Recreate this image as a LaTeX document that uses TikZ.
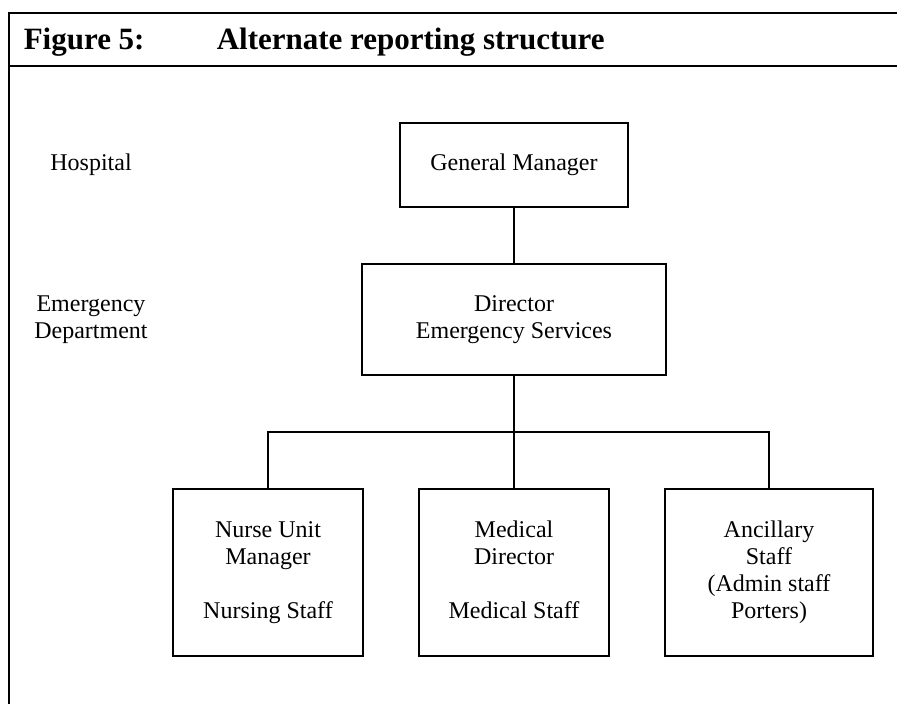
\documentclass[tikz,border=0pt]{standalone}
\usepackage{fontspec}
\setmainfont{Liberation Serif}
\usepackage{tikz}
\usetikzlibrary{positioning}

\begin{document}
\begin{tikzpicture}[x=1pt,y=-1pt,line width=1.5pt,
    orgbox/.style={draw,inner sep=0pt,align=center,
      minimum width=#1,font=\fontsize{24}{27}\selectfont},
    level/.style={align=center,font=\fontsize{24}{27}\selectfont},
    heading/.style={anchor=base west,inner sep=0pt,
      font=\fontsize{31}{36}\selectfont\bfseries}]
  \useasboundingbox (0,0) rectangle (897,704);
  % frame and heading
  \draw (9,704) -- (9,13) -- (897,13);
  \draw (9,66) -- (897,66);
  \node[heading] (fig) at (23,49) {Figure 5:};
  \node[heading] (title) at (216,49) {Alternate reporting structure};
  % levels on the left
  \node[level] (hosp) at (91,165) {Hospital};
  \node[level] (ed) at (91,320) {Emergency\\Department};
  % boxes
  \node[orgbox=228pt,minimum height=84pt] (gm) at (514,165) {General Manager};
  \node[orgbox=304pt,minimum height=111pt] (dir) at (514,319.5) {Director\\Emergency Services};
  \node[orgbox=190pt,minimum height=167pt] (nurse) at (268,572.5)
       {Nurse Unit\\Manager\\[27pt]Nursing Staff};
  \node[orgbox=190pt,minimum height=167pt] (med) at (514,572.5)
       {Medical\\Director\\[27pt]Medical Staff\vphantom{g}};
  \node[orgbox=208pt,minimum height=167pt] (anc) at (769,572.5)
       {Ancillary\\Staff\\(Admin staff\\Porters)};
  \coordinate (bus) at (514,432);
  % connectors
  \draw (gm) -- (dir);
  \draw (dir) -- (med);
  \draw (nurse.north) |- (bus) -| (anc.north);
\end{tikzpicture}
\end{document}
